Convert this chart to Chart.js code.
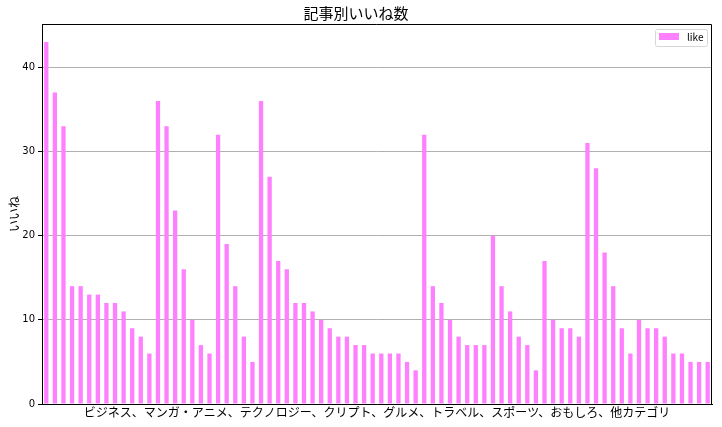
<!DOCTYPE html>
<html lang="ja">
<head>
    <meta charset="UTF-8">
    <title>記事別いいね数</title>
    <style>
        html, body { margin: 0; padding: 0; background: #fff; }
        #grafico { width: 722px; height: 427px; }
    </style>
    <script src="https://cdn.jsdelivr.net/npm/chart.js"></script>
</head>
<body>
    <div id="grafico"><canvas id="likesChart"></canvas></div>

    <script>
        // いいね数 (記事ごと、カテゴリ順)
        const likes = [
            43, 37, 33, 14, 14, 13, 13, 12, 12, 11, 9, 8, 6,
            36, 33, 23, 16, 10, 7, 6,
            32, 19, 14, 8, 5,
            36, 27, 17, 16, 12, 12, 11, 10, 9, 8, 8, 7, 7, 6, 6, 6, 6, 5, 4,
            32, 14, 12, 10, 8, 7, 7, 7,
            20, 14, 11, 8, 7, 4,
            17, 10, 9, 9, 8,
            31, 28, 18, 14, 9, 6, 10, 9, 9, 8, 6, 6, 5, 5, 5
        ];
        // 記事名は非表示なので番号だけ
        const articles = likes.map((_, i) => String(i + 1));
        const yTicks = [0, 10, 20, 30, 40];
        const seriesName = 'like';
        const chartTitle = '記事別いいね数';
        const xTitle = 'ビジネス、マンガ・アニメ、テクノロジー、クリプト、グルメ、トラベル、スポーツ、おもしろ、他カテゴリ';
        const yTitle = 'いいね';

        const barColor = '#ff80ff';
        const jpFont = "'Noto Sans CJK JP', 'DejaVu Sans', sans-serif";

        // 枠線 (上と右) と凡例をプロット内に描く
        const frameAndLegend = {
            id: 'frameAndLegend',
            afterDatasetsDraw(chart) {
                const { ctx, chartArea: a } = chart;
                ctx.save();
                ctx.strokeStyle = '#000';
                ctx.lineWidth = 1;
                ctx.beginPath();
                ctx.moveTo(a.left, a.top + 0.5);
                ctx.lineTo(a.right - 0.5, a.top + 0.5);
                ctx.lineTo(a.right - 0.5, a.bottom);
                ctx.stroke();

                // 凡例
                const ds = chart.data.datasets[0];
                const bx = a.right - 57, by = a.top + 5, bw = 52, bh = 17;
                ctx.fillStyle = 'rgba(255,255,255,0.8)';
                ctx.strokeStyle = '#d6d6d6';
                ctx.beginPath();
                ctx.roundRect(bx + 0.5, by + 0.5, bw, bh, 2);
                ctx.fill();
                ctx.stroke();
                ctx.fillStyle = ds.backgroundColor;
                ctx.fillRect(bx + 4, by + 4, 20, 7);
                ctx.fillStyle = '#000';
                ctx.font = "10px " + jpFont;
                ctx.textBaseline = 'middle';
                ctx.fillText(ds.label, bx + 32, by + 8.5);
                ctx.restore();
            }
        };

        const ctx = document.getElementById('likesChart').getContext('2d');
        new Chart(ctx, {
            type: 'bar',
            data: {
                labels: articles,
                datasets: [{
                    label: seriesName,
                    data: likes,
                    backgroundColor: barColor,
                    borderWidth: 0,
                    barPercentage: 0.5,
                    categoryPercentage: 1.0
                }]
            },
            options: {
                responsive: true,
                maintainAspectRatio: false,
                animation: false,
                layout: { padding: { left: 0, right: 10, top: 0, bottom: 0 } },
                plugins: {
                    legend: { display: false },
                    tooltip: { enabled: false },
                    title: {
                        display: true,
                        text: chartTitle,
                        color: '#000',
                        font: { family: jpFont, size: 15, weight: 'normal' },
                        padding: { top: 4, bottom: 2 }
                    }
                },
                scales: {
                    x: {
                        offset: true,
                        ticks: { display: false },
                        grid: { display: false, drawTicks: false },
                        border: { color: '#000', width: 1 },
                        title: {
                            display: true,
                            text: xTitle,
                            color: '#000',
                            font: { family: jpFont, size: 12 },
                            padding: { top: 0, bottom: 7 }
                        },
                        afterFit(scale) { scale.height = 23; }
                    },
                    y: {
                        min: 0,
                        max: 45.15,
                        afterBuildTicks(scale) {
                            scale.ticks = yTicks.map(v => ({ value: v }));
                        },
                        ticks: {
                            color: '#000',
                            padding: 3,
                            font: { family: "'DejaVu Sans', sans-serif", size: 10 }
                        },
                        grid: {
                            color: '#b0b0b0',
                            lineWidth: 1,
                            tickColor: '#000',
                            tickLength: 4
                        },
                        border: { color: '#000', width: 1 },
                        title: {
                            display: true,
                            text: yTitle,
                            color: '#000',
                            font: { family: jpFont, size: 12 },
                            padding: { top: 7, bottom: 0 }
                        },
                        afterFit(scale) { scale.width = 42; }
                    }
                }
            },
            plugins: [frameAndLegend]
        });
    </script>
</body>
</html>
